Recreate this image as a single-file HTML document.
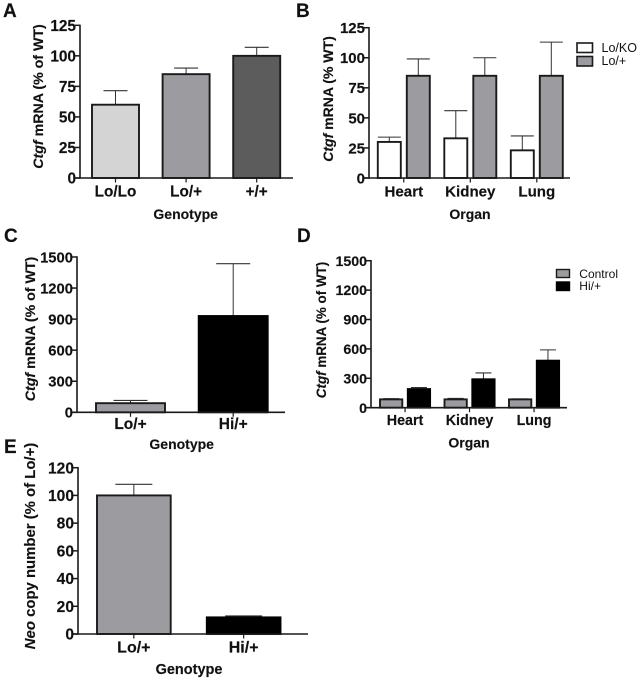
<!DOCTYPE html>
<html lang="en">
<head>
<meta charset="utf-8">
<title>Ctgf mRNA and Neo copy number bar charts</title>
<style>
html,body{margin:0;padding:0;background:#fff}
svg{display:block;font-family:"Liberation Sans",sans-serif;fill:#111}
text{font-weight:bold;stroke:#111;stroke-width:0.15px}
.legend-text{font-weight:normal;stroke:none}
</style>
</head>
<body>
<svg id="figure" width="640" height="681" viewBox="0 0 640 681" xmlns="http://www.w3.org/2000/svg">
  <rect width="640" height="681" fill="#fff"/>
  <g id="panel-a">
    <text x="3" y="17" font-size="19">A</text>
    <text transform="translate(43 96.5) rotate(-90)" text-anchor="middle" font-size="14.2"><tspan font-style="italic">Ctgf</tspan> mRNA (% of WT)</text>
    <text x="185.7" y="219" text-anchor="middle" font-size="14">Genotype</text>
  </g>
  <g id="panel-b">
    <text x="296" y="17" font-size="19">B</text>
    <text transform="translate(333 99) rotate(-90)" text-anchor="middle" font-size="14"><tspan font-style="italic">Ctgf</tspan> mRNA (% WT)</text>
    <text x="470" y="219" text-anchor="middle" font-size="14">Organ</text>
    <rect x="577" y="43" width="15.5" height="9.5" fill="#fff" stroke="#1a1a1a" stroke-width="1.6"/>
    <text class="legend-text" x="601.5" y="52" font-size="12.5">Lo/KO</text>
    <rect x="577" y="56.5" width="15.5" height="9.5" fill="#9c9ca0" stroke="#1a1a1a" stroke-width="1.6"/>
    <text class="legend-text" x="601.5" y="65" font-size="12.5">Lo/+</text>
  </g>
  <g id="panel-c">
    <text x="4" y="242" font-size="19">C</text>
    <text transform="translate(35 329) rotate(-90)" text-anchor="middle" font-size="14.2"><tspan font-style="italic">Ctgf</tspan> mRNA (% of WT)</text>
    <text x="181.7" y="449" text-anchor="middle" font-size="14">Genotype</text>
  </g>
  <g id="panel-d">
    <text x="297" y="242" font-size="19">D</text>
    <text transform="translate(326 330) rotate(-90)" text-anchor="middle" font-size="13.4"><tspan font-style="italic">Ctgf</tspan> mRNA (% of WT)</text>
    <text x="469" y="447.7" text-anchor="middle" font-size="14">Organ</text>
    <rect x="556.5" y="269.5" width="13" height="8" fill="#9c9ca0" stroke="#1a1a1a" stroke-width="1.4"/>
    <text class="legend-text" x="579.3" y="278" font-size="12">Control</text>
    <rect x="556.5" y="282" width="13" height="8.5" fill="#000" stroke="#000" stroke-width="1.4"/>
    <text class="legend-text" x="579.3" y="290" font-size="12">Hi/+</text>
  </g>
  <g id="panel-e">
    <text x="4" y="453" font-size="19">E</text>
    <text transform="translate(35 546) rotate(-90)" text-anchor="middle" font-size="14.9"><tspan font-style="italic">Neo</tspan> copy number (% of Lo/+)</text>
    <text x="189" y="674" text-anchor="middle" font-size="14.5">Genotype</text>
  </g>
</svg>
<script>
// Panel A
const categoriesA = ['Lo/Lo', 'Lo/+', '+/+'];
const valuesA = [60, 85, 100];
const errorTopsA = [71.5, 90, 107];
const ticksA = [0, 25, 50, 75, 100, 125];
// Panel B
const categoriesB = ['Heart', 'Kidney', 'Lung'];
const loKoValuesB = [30, 33, 23];
const loKoErrorTopsB = [34, 56, 35];
const loPlusValuesB = [85, 85, 85];
const loPlusErrorTopsB = [99, 100, 113];
const ticksB = [0, 25, 50, 75, 100, 125];
// Panel C
const categoriesC = ['Lo/+', 'Hi/+'];
const valuesC = [88, 930];
const errorTopsC = [115, 1435];
const ticksC = [0, 300, 600, 900, 1200, 1500];
// Panel D
const categoriesD = ['Heart', 'Kidney', 'Lung'];
const controlValuesD = [85, 85, 85];
const controlErrorTopsD = [92, 95, 90];
const hiValuesD = [190, 290, 480];
const hiErrorTopsD = [205, 355, 590];
const ticksD = [0, 300, 600, 900, 1200, 1500];
// Panel E
const categoriesE = ['Lo/+', 'Hi/+'];
const valuesE = [100, 12];
const errorTopsE = [108, 13];
const ticksE = [0, 20, 40, 60, 80, 100, 120];

const NS = 'http://www.w3.org/2000/svg';
const INK = '#1a1a1a';
const GRAY = '#9c9ca0';

function make(tag, attrs, parent) {
  const el = document.createElementNS(NS, tag);
  for (const k in attrs) el.setAttribute(k, attrs[k]);
  parent.appendChild(el);
  return el;
}

// Linear axis function: data value to pixel y
function yScale(cfg) {
  const max = cfg.ticks[cfg.ticks.length - 1];
  return v => cfg.y0 - (v / max) * (cfg.y0 - cfg.yTop);
}

function drawAxes(cfg) {
  const g = document.getElementById(cfg.panel);
  const y = yScale(cfg);
  const yAxis = make('line', {x1: cfg.x0, x2: cfg.x0, y1: cfg.yTop - 0.7, y2: cfg.y0 + 0.7, stroke: INK, 'stroke-width': 1.6}, g);
  
  
  cfg.ticks.forEach(t => {
    const mark = make('line', {x1: cfg.x0 - 5, x2: cfg.x0, y1: y(t), y2: y(t), stroke: INK, 'stroke-width': 1.5}, g);
    
    
    const label = make('text', {x: cfg.x0 - 4, y: y(t) + cfg.tickSize * 0.36, 'text-anchor': 'end', 'font-size': cfg.tickSize}, g);
    label.textContent = t;
    
    
  });
}

function drawBar(cfg, g, left, width, value, top, fill, name) {
  const y = yScale(cfg);
  const cx = left + width / 2;
  const capHalf = cfg.capHalf;
  const stem = make('line', {x1: cx, x2: cx, y1: y(top), y2: y(value), stroke: '#333', 'stroke-width': 1}, g);
  
  
  const cap = make('line', {x1: cx - capHalf, x2: cx + capHalf, y1: y(top), y2: y(top), stroke: '#333', 'stroke-width': 1.1}, g);
  
  
  const bar = make('rect', {x: left, y: y(value), width: width, height: cfg.y0 - y(value), fill: fill, stroke: fill === '#000' ? '#000' : INK, 'stroke-width': 1.9}, g);
  
  
}

function drawCategoryLabel(cfg, g, cx, text) {
  const mark = make('line', {x1: cx, x2: cx, y1: cfg.y0, y2: cfg.y0 + 4.5, stroke: INK, 'stroke-width': 1.2}, g);
  
  
  const label = make('text', {x: cx, y: cfg.catBaseline, 'text-anchor': 'middle', 'font-size': cfg.catSize}, g);
  label.textContent = text;
  
  
}

function drawXAxisLine(cfg) {
  const g = document.getElementById(cfg.panel);
  const xAxis = make('line', {x1: cfg.x0 - 5, x2: cfg.xEnd, y1: cfg.y0, y2: cfg.y0, stroke: INK, 'stroke-width': 1.6}, g);
  
  
}

function drawSimple(cfg) {
  const g = document.getElementById(cfg.panel);
  drawAxes(cfg);
  cfg.categories.forEach((c, i) => {
    const left = cfg.firstLeft + i * cfg.step;
    drawBar(cfg, g, left, cfg.barW, cfg.values[i], cfg.tops[i], cfg.fills[i], c);
    drawCategoryLabel(cfg, g, left + cfg.barW / 2, c);
  });
  drawXAxisLine(cfg);
}

function drawGrouped(cfg) {
  const g = document.getElementById(cfg.panel);
  drawAxes(cfg);
  cfg.categories.forEach((c, i) => {
    const left = cfg.firstLeft + i * cfg.step;
    drawBar(cfg, g, left, cfg.barW, cfg.valuesOne[i], cfg.topsOne[i], cfg.fillOne, c + '-first');
    drawBar(cfg, g, left + cfg.pair, cfg.barW, cfg.valuesTwo[i], cfg.topsTwo[i], cfg.fillTwo, c + '-second');
    drawCategoryLabel(cfg, g, left + (cfg.pair + cfg.barW) / 2, c);
  });
  drawXAxisLine(cfg);
}

drawSimple({panel: 'panel-a', x0: 80, xEnd: 293, y0: 178, yTop: 25.3, ticks: ticksA, tickSize: 15.4,
  categories: categoriesA, values: valuesA, tops: errorTopsA, fills: ['#d4d4d4', GRAY, '#5c5c5c'],
  firstLeft: 92, step: 70.6, barW: 47, capHalf: 12, catBaseline: 196.5, catSize: 15.3});

drawGrouped({panel: 'panel-b', x0: 369, xEnd: 570, y0: 178, yTop: 27.7, ticks: ticksB, tickSize: 15,
  categories: categoriesB, valuesOne: loKoValuesB, topsOne: loKoErrorTopsB, valuesTwo: loPlusValuesB, topsTwo: loPlusErrorTopsB,
  fillOne: '#fff', fillTwo: GRAY, firstLeft: 377.8, step: 66.5, pair: 29, barW: 23, capHalf: 11.5, catBaseline: 196.5, catSize: 15.1});

drawSimple({panel: 'panel-c', x0: 77, xEnd: 285, y0: 412.3, yTop: 257, ticks: ticksC, tickSize: 14.8,
  categories: categoriesC, values: valuesC, tops: errorTopsC, fills: [GRAY, '#000'],
  firstLeft: 96, step: 102.7, barW: 69, capHalf: 17, catBaseline: 429, catSize: 15.5});

drawGrouped({panel: 'panel-d', x0: 371, xEnd: 567, y0: 407.7, yTop: 260.7, ticks: ticksD, tickSize: 14.2,
  categories: categoriesD, valuesOne: controlValuesD, topsOne: controlErrorTopsD, valuesTwo: hiValuesD, topsTwo: hiErrorTopsD,
  fillOne: GRAY, fillTwo: '#000', firstLeft: 380, step: 64.5, pair: 27.8, barW: 22.3, capHalf: 8, catBaseline: 425, catSize: 14.3});

drawSimple({panel: 'panel-e', x0: 78, xEnd: 308, y0: 634, yTop: 467.7, ticks: ticksE, tickSize: 15.6,
  categories: categoriesE, values: valuesE, tops: errorTopsE, fills: [GRAY, '#000'],
  firstLeft: 97, step: 109.8, barW: 73.7, capHalf: 18.5, catBaseline: 652.7, catSize: 16});
</script>
</body>
</html>
